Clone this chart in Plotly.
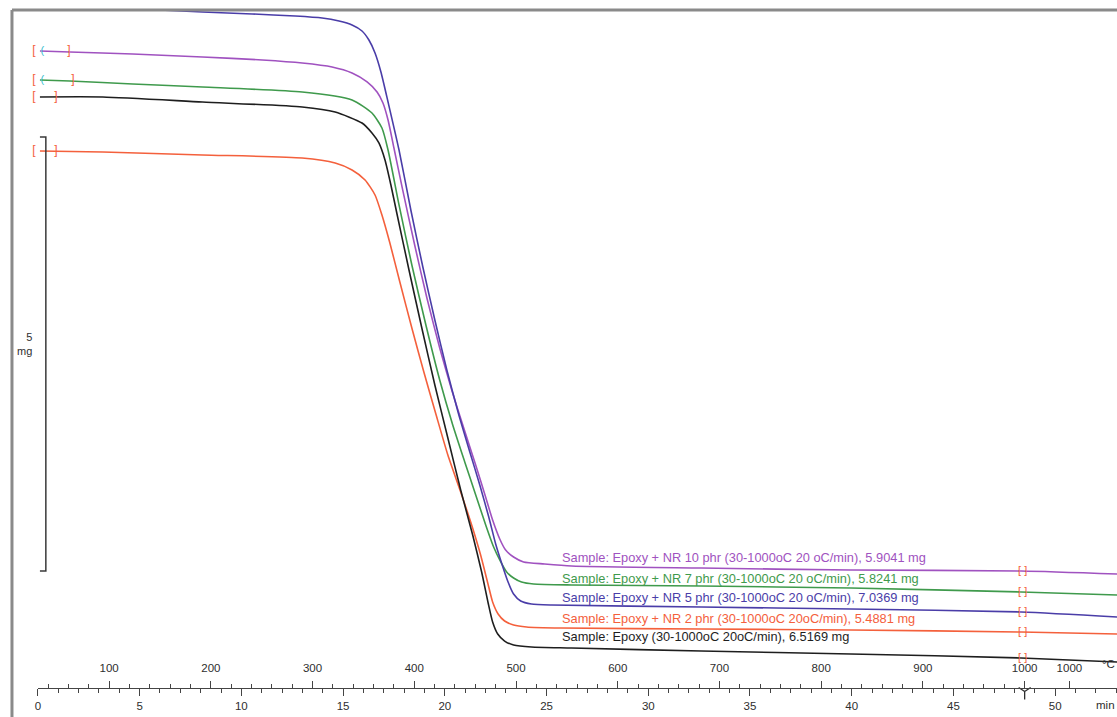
import numpy as np
import plotly.graph_objects as go

# ---------------- data (time in min, displayed mass in mg, offset per curve) ----------------
t_nr10 = [0.10, 1.57, 4.66, 8.09, 11.03, 12.99, 14.46, 15.44, 16.18, 16.67, 16.96, 17.21, 17.50, 17.89,
          18.53, 19.12, 19.75, 20.34, 20.93, 21.47, 21.96, 22.35, 22.70, 22.99, 23.38, 23.87, 24.90,
          26.23, 32.60, 39.95, 48.33, 53.04]
m_nr10 = [7.339, 7.327, 7.304, 7.270, 7.235, 7.200, 7.154, 7.085, 6.982, 6.866, 6.740, 6.544, 6.221, 5.783,
          5.092, 4.493, 3.917, 3.433, 2.995, 2.604, 2.235, 1.935, 1.717, 1.590, 1.509, 1.452, 1.429,
          1.406, 1.382, 1.359, 1.348, 1.313]

t_nr7 = [0.10, 1.57, 4.66, 8.09, 12.99, 15.44, 16.42, 16.91, 17.21, 17.75, 18.38, 19.07, 19.75, 20.39,
         20.98, 21.52, 22.01, 22.40, 22.75, 23.04, 23.38, 23.77, 24.36, 26.23, 32.60, 39.95, 48.33, 53.04]
m_nr7 = [7.005, 6.993, 6.959, 6.924, 6.866, 6.774, 6.624, 6.452, 6.198, 5.565, 4.873, 4.182, 3.548, 3.030,
         2.604, 2.224, 1.878, 1.624, 1.452, 1.336, 1.267, 1.221, 1.198, 1.187, 1.175, 1.152, 1.106, 1.071]

t_nr5 = [0.10, 3.19, 4.80, 5.98, 8.09, 10.54, 12.65, 13.97, 14.80, 15.44, 15.93, 16.27, 16.57, 16.86,
         17.21, 17.75, 18.33, 18.92, 19.51, 20.10, 20.69, 21.23, 21.72, 22.16, 22.50, 22.79, 23.09,
         23.38, 23.73, 24.26, 25.25, 32.60, 39.95, 48.33, 53.04]
m_nr5 = [7.846, 7.834, 7.823, 7.811, 7.788, 7.765, 7.742, 7.719, 7.684, 7.638, 7.569, 7.465, 7.316, 7.097,
         6.751, 6.198, 5.507, 4.850, 4.240, 3.664, 3.145, 2.719, 2.339, 1.970, 1.659, 1.440, 1.233,
         1.083, 1.002, 0.968, 0.956, 0.933, 0.910, 0.876, 0.818]

t_nr2 = [0.10, 3.19, 8.09, 12.99, 14.61, 15.44, 16.08, 16.57, 16.91, 17.30, 17.79, 18.38, 18.97, 19.56,
         20.15, 20.78, 21.32, 21.76, 22.11, 22.35, 22.62, 22.94, 23.38, 24.02, 25.74, 32.60, 39.95,
         48.33, 53.04]
m_nr2 = [6.187, 6.175, 6.141, 6.106, 6.048, 5.968, 5.853, 5.680, 5.449, 5.127, 4.677, 4.147, 3.641, 3.157,
         2.684, 2.258, 1.878, 1.532, 1.210, 0.991, 0.853, 0.772, 0.726, 0.703, 0.691, 0.680, 0.668,
         0.645, 0.622]

t_epoxy = [0.10, 3.19, 8.09, 12.99, 14.61, 15.93, 16.42, 16.76, 17.06, 17.35, 17.65, 18.24, 18.87, 19.51,
           20.15, 20.78, 21.37, 21.81, 22.13, 22.35, 22.60, 22.94, 23.38, 24.26, 26.23, 32.60, 39.95,
           48.33, 53.04]
m_epoxy = [6.809, 6.809, 6.751, 6.694, 6.636, 6.509, 6.394, 6.279, 6.083, 5.795, 5.461, 4.816, 4.147, 3.491,
           2.880, 2.281, 1.763, 1.336, 0.979, 0.760, 0.622, 0.541, 0.495, 0.472, 0.461, 0.426, 0.392,
           0.346, 0.300]

sample_labels = [
    "Sample: Epoxy + NR 10 phr (30-1000oC 20 oC/min), 5.9041 mg",
    "Sample: Epoxy + NR 7 phr (30-1000oC 20 oC/min), 5.8241 mg",
    "Sample: Epoxy + NR 5 phr (30-1000oC 20 oC/min), 7.0369 mg",
    "Sample: Epoxy + NR 2 phr (30-1000oC 20oC/min), 5.4881 mg",
    "Sample: Epoxy (30-1000oC 20oC/min), 6.5169 mg",
]
# evaluation-limit end (min) at the start of each curve (None = not visible)
eval_left_end = [1.52, 1.72, None, 0.88, 0.88]

minute_major = [0, 5, 10, 15, 20, 25, 30, 35, 40, 45, 50]
temp_major = [100, 200, 300, 400, 500, 600, 700, 800, 900, 1000]
temp_minor = list(range(40, 1001, 20))
T_start, heat_rate = 30, 20           # degC, degC/min
t_iso_label = 50.7                    # second "1000" label (isothermal segment)
scale_bar_mg = 5
scale_bar_top = 6.348

# ---------------- styling ----------------
colors = ["#a052c0", "#3f9a4c", "#4a3da8", "#f4603c", "#1e1e1e"]
times = [t_nr10, t_nr7, t_nr5, t_nr2, t_epoxy]
masses = [m_nr10, m_nr7, m_nr5, m_nr2, m_epoxy]
FONT = "Liberation Sans, Arial, sans-serif"
TXT = "#2e2e2e"
ORANGE = "#f4603c"
CYAN = "#3cc0d0"

px_per_min = 20.4
px_per_mg = 86.8
W, H = 1117, 717
top_margin = 10
x_range = [-35 / px_per_min, (W - 35) / px_per_min]
y_range = [-(H - 688) / px_per_mg, (688 - top_margin) / px_per_mg]
axis_pos = (H - 688) / (H - top_margin)

fig = go.Figure()

for t, m, c in zip(times, masses, colors):
    fig.add_trace(go.Scatter(x=t, y=m, mode="lines",
                             line=dict(color=c, width=1.6, shape="spline", smoothing=0.6),
                             hoverinfo="skip", showlegend=False))

# evaluation limit brackets
t_right = (1000 - T_start) / heat_rate - 0.1
for t, m, c, le in zip(times, masses, colors, eval_left_end):
    if le is not None:
        y0 = float(np.interp(0.1, t, m))
        fig.add_trace(go.Scatter(x=[-0.2, le], y=[y0, y0], mode="text", text=["[", "]"],
                                 textfont=dict(color=ORANGE, size=12, family=FONT),
                                 hoverinfo="skip", showlegend=False))
    yr = float(np.interp(t_right, t, m))
    fig.add_trace(go.Scatter(x=[t_right], y=[yr], mode="text", text=["[ ]"],
                             textfont=dict(color=ORANGE, size=11, family=FONT),
                             hoverinfo="skip", showlegend=False))

# cyan limit marks
for t, m in [(t_nr10, m_nr10), (t_nr7, m_nr7)]:
    y0 = float(np.interp(0.1, t, m))
    fig.add_trace(go.Scatter(x=[0.22], y=[y0], mode="text", text=["("],
                             textfont=dict(color=CYAN, size=11, family=FONT),
                             hoverinfo="skip", showlegend=False))

# scale bar (5 mg)
bar_x0, bar_x1 = 0.10, 0.39
fig.add_trace(go.Scatter(x=[bar_x0, bar_x1, bar_x1, bar_x0],
                         y=[scale_bar_top, scale_bar_top, scale_bar_top - scale_bar_mg, scale_bar_top - scale_bar_mg],
                         mode="lines", line=dict(color="#3a3a3a", width=1.5),
                         hoverinfo="skip", showlegend=False))
fig.add_annotation(x=-0.2, y=scale_bar_top - scale_bar_mg / 2 + 0.12, text=f"{scale_bar_mg}<br>mg",
                   showarrow=False, xanchor="right", align="right",
                   font=dict(size=11, color=TXT, family=FONT))

# sample labels
label_t = 25.64
label_m = [1.498, 1.267, 1.037, 0.806, 0.588]
for lab, y, c in zip(sample_labels, label_m, colors):
    fig.add_annotation(x=label_t, y=y, text=lab, showarrow=False, xanchor="left",
                       font=dict(size=12.8, color=c, family=FONT))

# end-of-heating marker on the time axis
t_end = (1000 - T_start) / heat_rate
fig.add_trace(go.Scatter(x=[t_end], y=[-0.04], mode="markers",
                         marker=dict(symbol="y-down-open", size=10, color=TXT,
                                     line=dict(color=TXT, width=1.3)),
                         hoverinfo="skip", showlegend=False))

# dummy traces to create the time / temperature axes
for ax in ["x2", "x3"]:
    fig.add_trace(go.Scatter(x=[None], y=[None], xaxis=ax, yaxis="y", mode="lines",
                             hoverinfo="skip", showlegend=False))

dom0 = 35 / W
temp_vals = [(T - T_start) / heat_rate for T in temp_major] + [t_iso_label]
temp_text = [str(T) for T in temp_major] + ["1000"]
temp_minor_vals = [(T - T_start) / heat_rate for T in temp_minor]

fig.update_layout(
    width=W, height=H,
    margin=dict(l=0, r=0, t=top_margin, b=0),
    paper_bgcolor="white", plot_bgcolor="rgba(0,0,0,0)",
    showlegend=False, hovermode=False,
    font=dict(family=FONT, color=TXT, size=11),
    xaxis=dict(range=x_range, visible=False, domain=[0, 1], fixedrange=True),
    yaxis=dict(range=y_range, visible=False, fixedrange=True),
    xaxis2=dict(domain=[dom0, 1], range=[0, x_range[1]], anchor="free", position=axis_pos,
                side="bottom", showline=True, linecolor="#444", linewidth=1.3,
                showgrid=False, zeroline=False,
                tickmode="array", tickvals=minute_major, ticktext=[str(v) for v in minute_major],
                ticks="outside", ticklen=7, tickwidth=1.2, tickcolor="#444",
                minor=dict(tickmode="linear", tick0=0, dtick=1, ticks="outside", ticklen=4,
                           tickwidth=1.1, tickcolor="#444"),
                tickfont=dict(size=11.5, color=TXT, family=FONT)),
    xaxis3=dict(domain=[dom0, 1], range=[0, x_range[1]], anchor="free", position=axis_pos,
                side="top", showline=False, showgrid=False, zeroline=False,
                tickmode="array", tickvals=temp_vals, ticktext=temp_text,
                ticks="outside", ticklen=7, tickwidth=1.2, tickcolor="#444",
                ticklabelstandoff=4,
                minor=dict(tickmode="array", tickvals=temp_minor_vals, ticks="outside", ticklen=4,
                           tickwidth=1.1, tickcolor="#444"),
                tickfont=dict(size=11.5, color=TXT, family=FONT)),
)

# axis unit labels (kept inside the picture edge)
fig.add_annotation(x=1.0, xref="paper", y=-0.2, text="min", showarrow=False, xanchor="right",
                   font=dict(size=11.5, color=TXT, family=FONT))
fig.add_annotation(x=1.0, xref="paper", y=0.28, text="°C", showarrow=False, xanchor="right",
                   font=dict(size=11.5, color=TXT, family=FONT))

# instrument frame (left and top border)
fx = 9 / W
fig.add_shape(type="line", xref="paper", yref="paper", x0=fx, x1=1.01, y0=1, y1=1,
              line=dict(color="#8a8a8a", width=3))
fig.add_shape(type="line", xref="paper", yref="paper", x0=fx, x1=fx, y0=-0.02, y1=1,
              line=dict(color="#8a8a8a", width=3))

fig.write_html("out.html", config={"displayModeBar": False},
               post_script="document.body.style.margin='0';")
